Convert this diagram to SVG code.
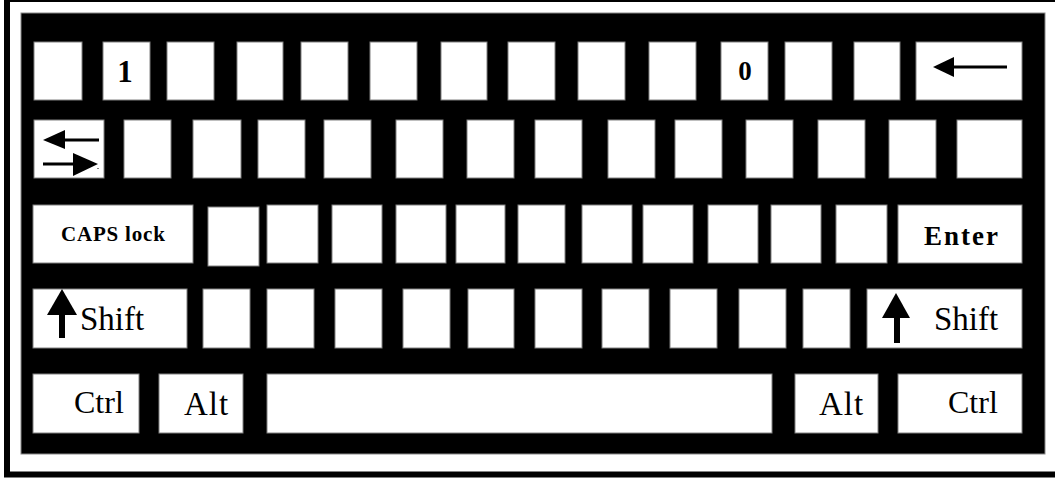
<svg xmlns="http://www.w3.org/2000/svg" width="1055" height="479" viewBox="0 0 1055 479">
<style>
.k{fill:#fff;stroke:#808080;stroke-width:1}
.b{font-weight:bold}
</style>
<rect x="0" y="0" width="1055" height="479" fill="#fff"/>
<rect x="7" y="-1" width="1060" height="475.5" fill="none" stroke="#000" stroke-width="6"/>
<rect x="21" y="13" width="1024" height="441" fill="#000" stroke="#888" stroke-width="1"/>
<g font-family="Liberation Serif, DejaVu Serif, Noto Serif, serif" fill="#000">
<g id="row1">
<rect class="k" x="34" y="42" width="48" height="58"/>
<g id="key-1"><rect class="k" x="103" y="42" width="47" height="58"/><text class="b" x="125" y="82" font-size="31" text-anchor="middle">1</text></g>
<rect class="k" x="167" y="42" width="47" height="58"/>
<rect class="k" x="237" y="42" width="46" height="58"/>
<rect class="k" x="301" y="42" width="47" height="58"/>
<rect class="k" x="370" y="42" width="47" height="58"/>
<rect class="k" x="441" y="42" width="46" height="58"/>
<rect class="k" x="508" y="42" width="47" height="58"/>
<rect class="k" x="578" y="42" width="47" height="58"/>
<rect class="k" x="649" y="42" width="47" height="58"/>
<g id="key-0"><rect class="k" x="721" y="42" width="47" height="58"/><text class="b" x="745" y="80" font-size="27" text-anchor="middle">0</text></g>
<rect class="k" x="785" y="42" width="47" height="58"/>
<rect class="k" x="854" y="42" width="46" height="58"/>
<g id="key-backspace"><rect class="k" x="916" y="42" width="106" height="58"/>
<polygon points="933,67 954,57 954,77" fill="#000"/><rect x="952" y="65.5" width="55" height="3" fill="#000"/></g>
</g>
<g id="row2">
<g id="key-tab"><rect class="k" x="34" y="120" width="70" height="58"/>
<polygon points="43,140 65,130 65,149" fill="#000"/><rect x="63" y="138.5" width="36" height="3" fill="#000"/>
<polygon points="98,164 73,153 73,176" fill="#000"/><rect x="43" y="162.5" width="32" height="3" fill="#000"/>
<rect x="97.5" y="168" width="1" height="1" fill="#000"/></g>
<rect class="k" x="124" y="120" width="47" height="58"/>
<rect class="k" x="193" y="120" width="48" height="58"/>
<rect class="k" x="258" y="120" width="47" height="58"/>
<rect class="k" x="324" y="120" width="47" height="58"/>
<rect class="k" x="396" y="120" width="47" height="58"/>
<rect class="k" x="467" y="120" width="47" height="58"/>
<rect class="k" x="535" y="120" width="47" height="58"/>
<rect class="k" x="608" y="120" width="47" height="58"/>
<rect class="k" x="675" y="120" width="47" height="58"/>
<rect class="k" x="746" y="120" width="47" height="58"/>
<rect class="k" x="818" y="120" width="47" height="58"/>
<rect class="k" x="889" y="120" width="47" height="58"/>
<rect class="k" x="957" y="120" width="65" height="58"/>
</g>
<g id="row3">
<g id="key-caps"><rect class="k" x="33" y="205" width="160" height="58"/><text class="b" x="61" y="241" font-size="21" letter-spacing="0.8">CAPS lock</text></g>
<rect class="k" x="208" y="207" width="51" height="59"/>
<rect class="k" x="267" y="205" width="51" height="58"/>
<rect class="k" x="332" y="205" width="50" height="58"/>
<rect class="k" x="396" y="205" width="50" height="58"/>
<rect class="k" x="456" y="205" width="49" height="58"/>
<rect class="k" x="518" y="205" width="47" height="58"/>
<rect class="k" x="582" y="205" width="50" height="58"/>
<rect class="k" x="643" y="205" width="50" height="58"/>
<rect class="k" x="708" y="205" width="50" height="58"/>
<rect class="k" x="771" y="205" width="50" height="58"/>
<rect class="k" x="836" y="205" width="51" height="58"/>
<g id="key-enter"><rect class="k" x="898" y="205" width="124" height="58"/><text class="b" x="924" y="245" font-size="27" letter-spacing="2">Enter</text></g>
</g>
<g id="row4">
<g id="key-shift-left"><rect class="k" x="33" y="289" width="154" height="59"/>
<polygon points="62,289 47,315 77,315" fill="#000"/><rect x="59" y="313" width="6" height="25" fill="#000"/>
<text x="80" y="330" font-size="33">Shift</text></g>
<rect class="k" x="203" y="289" width="47" height="59"/>
<rect class="k" x="267" y="289" width="47" height="59"/>
<rect class="k" x="335" y="289" width="47" height="59"/>
<rect class="k" x="403" y="289" width="47" height="59"/>
<rect class="k" x="468" y="289" width="46" height="59"/>
<rect class="k" x="535" y="289" width="47" height="59"/>
<rect class="k" x="602" y="289" width="47" height="59"/>
<rect class="k" x="670" y="289" width="47" height="59"/>
<rect class="k" x="739" y="289" width="47" height="59"/>
<rect class="k" x="803" y="289" width="47" height="59"/>
<g id="key-shift-right"><rect class="k" x="867" y="289" width="155" height="59"/>
<polygon points="896,293 882,318 910,318" fill="#000"/><rect x="894" y="316" width="6" height="27" fill="#000"/>
<text x="934" y="330" font-size="33">Shift</text></g>
</g>
<g id="row5">
<g id="key-ctrl-left"><rect class="k" x="33" y="374" width="106" height="59"/><text x="74" y="413" font-size="32">Ctrl</text></g>
<g id="key-alt-left"><rect class="k" x="159" y="374" width="84" height="59"/><text x="184" y="415" font-size="33" letter-spacing="1">Alt</text></g>
<rect class="k" id="key-space" x="267" y="374" width="505" height="59"/>
<g id="key-alt-right"><rect class="k" x="795" y="374" width="83" height="59"/><text x="819" y="415" font-size="33" letter-spacing="1">Alt</text></g>
<g id="key-ctrl-right"><rect class="k" x="898" y="374" width="124" height="59"/><text x="948" y="413" font-size="32">Ctrl</text></g>
</g>
</g>
<g id="connectors"/>
</svg>
